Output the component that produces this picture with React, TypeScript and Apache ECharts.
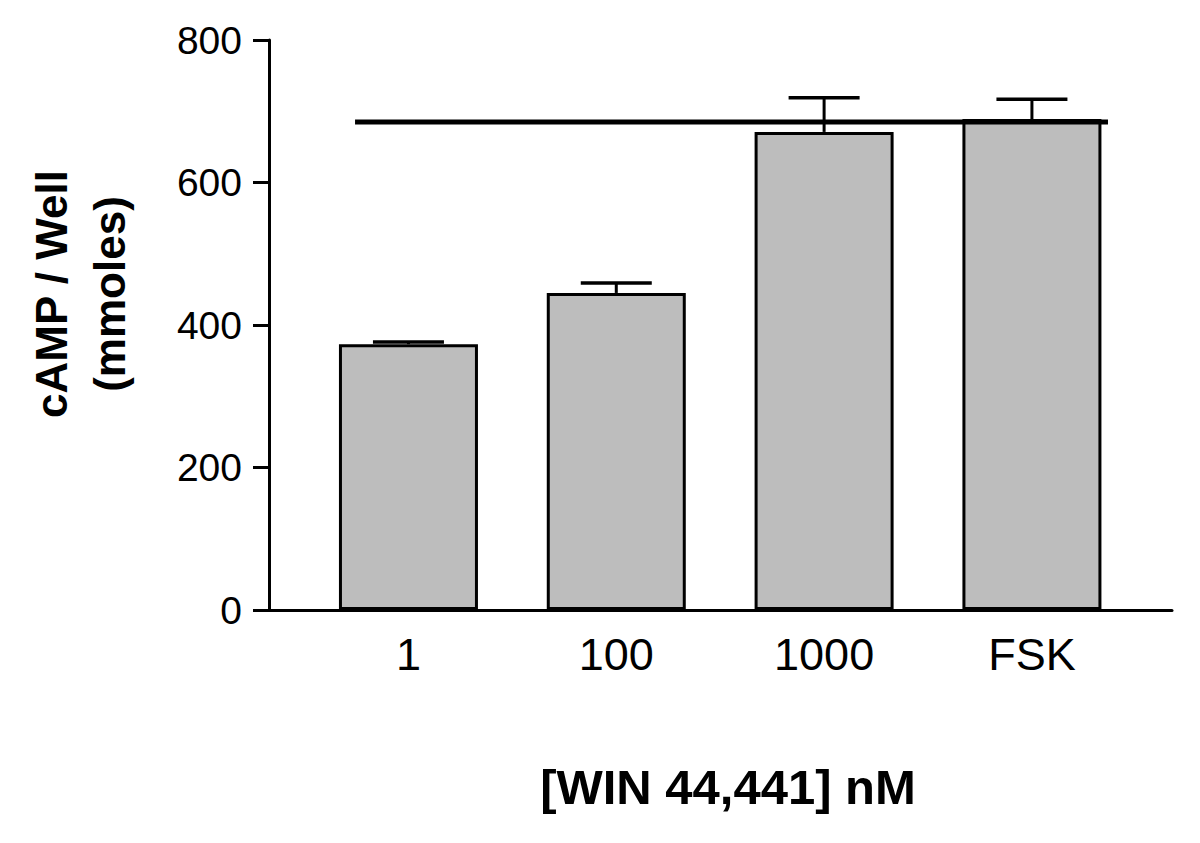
import React, { useEffect, useRef } from "react";
import * as echarts from "echarts";

const categories = ["1", "100", "1000", "FSK"];
const means = [373, 445, 671, 689];
const upperErrors = [376, 459, 719, 717];
const refLineValue = 685;
const refLineSpan = [-0.257, 3.366];
const yTicks = [0, 200, 400, 600, 800];
const xTitle = "[WIN 44,441] nM";
const yTitle = "cAMP / Well\n(mmoles)";

const FONT = "'Liberation Sans', Arial, Helvetica, sans-serif";

export default function App() {
  const ref = useRef<HTMLDivElement>(null);
  useEffect(() => {
    if (!ref.current) return;
    const chart = echarts.init(ref.current, null, { renderer: "svg" });
    const barData = means.map((v, i) => [i, v]);
    const errData = means.map((v, i) => [i, v, upperErrors[i]]);
    chart.setOption({
      animation: false,
      backgroundColor: "#ffffff",
      grid: { left: 269, right: 28, top: 40, bottom: 233, containLabel: false },
      xAxis: {
        type: "value",
        min: -0.671,
        max: 3.674,
        splitLine: { show: false },
        axisLine: { show: true, onZero: false, lineStyle: { color: "#000", width: 3 } },
        axisTick: { show: false },
        axisLabel: {
          customValues: [0, 1, 2, 3],
          formatter: (v: number) => categories[Math.round(v)] ?? "",
          color: "#000",
          fontSize: 45,
          fontFamily: FONT,
          margin: 22,
        },
      },
      yAxis: {
        type: "value",
        min: yTicks[0],
        max: yTicks[yTicks.length - 1],
        interval: 200,
        splitLine: { show: false },
        axisLine: { show: true, onZero: false, lineStyle: { color: "#000", width: 3 } },
        axisTick: { show: true, length: 16, lineStyle: { color: "#000", width: 3 } },
        axisLabel: { color: "#000", fontSize: 39, fontFamily: FONT, margin: 27 },
      },
      series: [
        {
          type: "bar",
          data: barData,
          barWidth: 139,
          itemStyle: { color: "#bdbdbd", borderColor: "#000", borderWidth: 3 },
          z: 2,
        },
        {
          type: "custom",
          data: errData,
          z: 3,
          renderItem: (params: any, api: any) => {
            const x = api.value(0);
            const lo = api.coord([x, api.value(1)]);
            const hi = api.coord([x, api.value(2)]);
            const half = 35.5;
            return {
              type: "group",
              children: [
                {
                  type: "line",
                  shape: { x1: lo[0], y1: lo[1], x2: hi[0], y2: hi[1] },
                  style: { stroke: "#000", lineWidth: 3 },
                },
                {
                  type: "line",
                  shape: { x1: hi[0] - half, y1: hi[1], x2: hi[0] + half, y2: hi[1] },
                  style: { stroke: "#000", lineWidth: 3.5 },
                },
              ],
            };
          },
        },
        {
          type: "line",
          data: refLineSpan.map((x) => [x, refLineValue]),
          showSymbol: false,
          symbol: "none",
          lineStyle: { color: "#000", width: 5 },
          z: 4,
        },
      ],
      graphic: [
        {
          type: "text",
          x: 728,
          y: 787,
          style: {
            text: xTitle,
            font: `bold 49px ${FONT}`,
            fill: "#000",
            textAlign: "center",
            textVerticalAlign: "middle",
          },
        },
        {
          type: "text",
          x: 80,
          y: 294,
          rotation: Math.PI / 2,
          style: {
            text: yTitle,
            font: `bold 44px ${FONT}`,
            fill: "#000",
            textAlign: "center",
            textVerticalAlign: "middle",
            lineHeight: 58,
          },
        },
      ],
    });
    return () => chart.dispose();
  }, []);
  return (
    <div
      ref={ref}
      style={{ position: "fixed", left: 0, top: 0, width: 1200, height: 843, background: "#fff" }}
    />
  );
}
